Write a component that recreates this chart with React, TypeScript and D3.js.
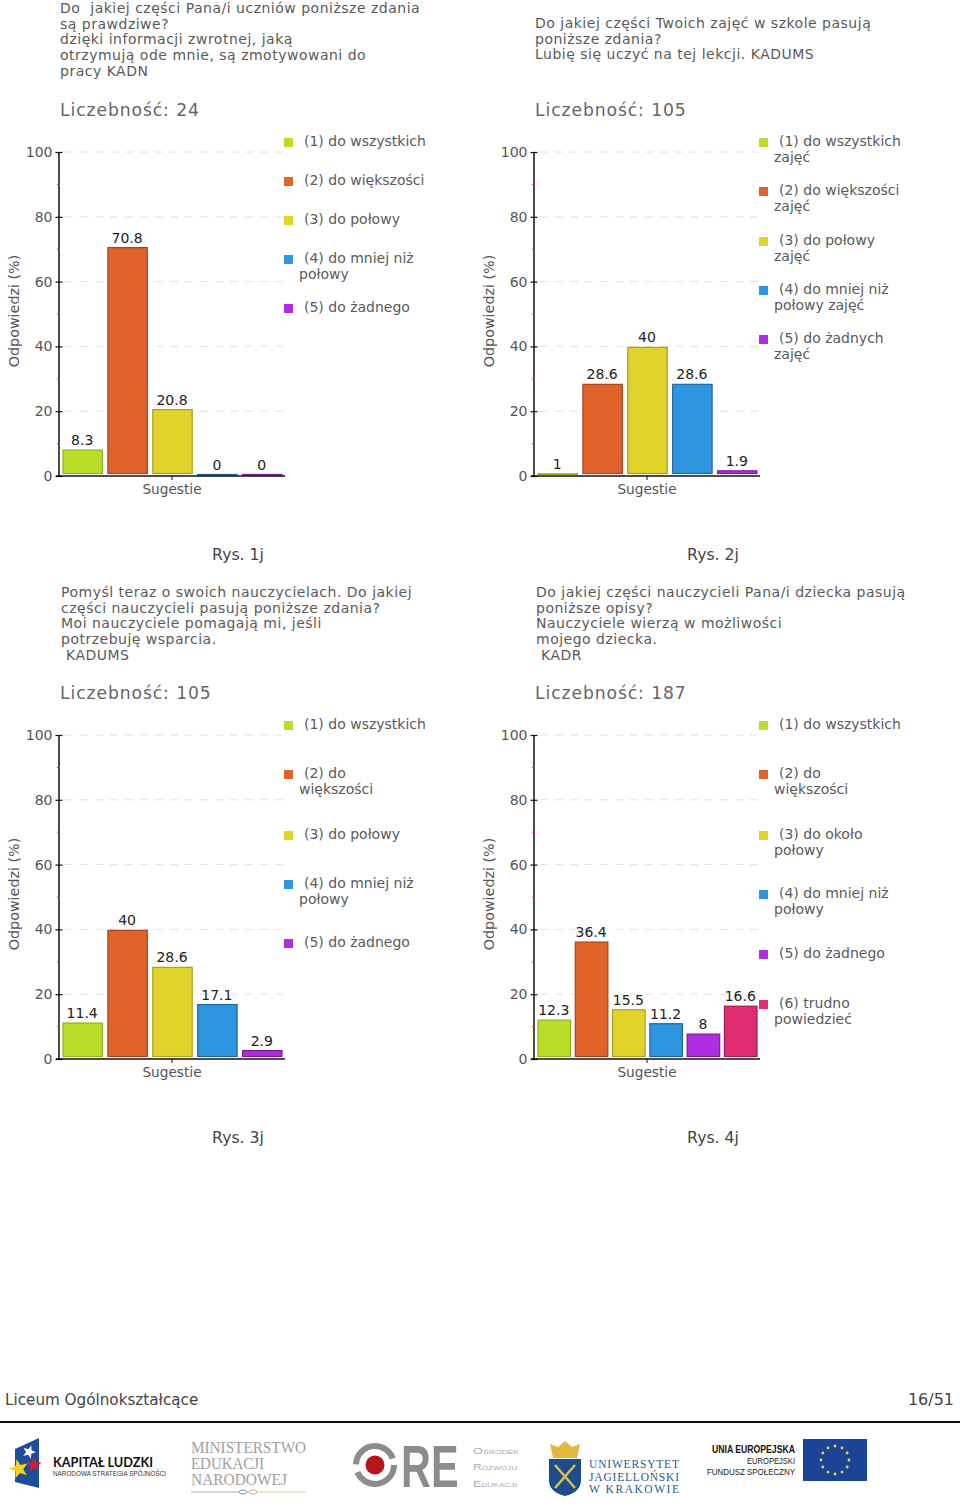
import React, { useEffect, useRef } from "react";
import * as d3 from "d3";

const FONT = "DejaVu Sans";

// values
const values1 = [8.3, 70.8, 20.8, 0, 0];
const values2 = [1, 28.6, 40, 28.6, 1.9];
const values3 = [11.4, 40, 28.6, 17.1, 2.9];
const values4 = [12.3, 36.4, 15.5, 11.2, 8, 16.6];

const counts = [24, 105, 105, 187];
const captions = ["Rys. 1j", "Rys. 2j", "Rys. 3j", "Rys. 4j"];

const titles1 = [
  "Do  jakiej części Pana/i uczniów poniższe zdania",
  "są prawdziwe?",
  "dzięki informacji zwrotnej, jaką",
  "otrzymują ode mnie, są zmotywowani do",
  "pracy KADN",
];
const titles2 = [
  "Do jakiej części Twoich zajęć w szkole pasują",
  "poniższe zdania?",
  "Lubię się uczyć na tej lekcji. KADUMS",
];
const titles3 = [
  "Pomyśl teraz o swoich nauczycielach. Do jakiej",
  "części nauczycieli pasują poniższe zdania?",
  "Moi nauczyciele pomagają mi, jeśli",
  "potrzebuję wsparcia.",
  " KADUMS",
];
const titles4 = [
  "Do jakiej części nauczycieli Pana/i dziecka pasują",
  "poniższe opisy?",
  "Nauczyciele wierzą w możliwości",
  "mojego dziecka.",
  " KADR",
];

const legend1 = [
  ["(1) do wszystkich"],
  ["(2) do większości"],
  ["(3) do połowy"],
  ["(4) do mniej niż", "połowy"],
  ["(5) do żadnego"],
];
const legend2 = [
  ["(1) do wszystkich", "zajęć"],
  ["(2) do większości", "zajęć"],
  ["(3) do połowy", "zajęć"],
  ["(4) do mniej niż", "połowy zajęć"],
  ["(5) do żadnych", "zajęć"],
];
const legend3 = [
  ["(1) do wszystkich"],
  ["(2) do", "większości"],
  ["(3) do połowy"],
  ["(4) do mniej niż", "połowy"],
  ["(5) do żadnego"],
];
const legend4 = [
  ["(1) do wszystkich"],
  ["(2) do", "większości"],
  ["(3) do około", "połowy"],
  ["(4) do mniej niż", "połowy"],
  ["(5) do żadnego"],
  ["(6) trudno", "powiedzieć"],
];

const fills = ["#bade27", "#e0632c", "#e0d42b", "#2e96e0", "#b02ce0", "#e02c70"];
const strokes = ["#8fb020", "#a8431a", "#a8a01c", "#1b66a0", "#7c1aa0", "#a01a50"];

const yTicks = d3.range(0, 101, 10);

// layout of the four panels
const panels = [
  { x: 0, y: 0, titleX: 60, values: values1, titles: titles1, titleY: 13, legend: legend1, legendGaps: [39, 39, 39, 49] },
  { x: 475, y: 0, titleX: 60, values: values2, titles: titles2, titleY: 28, legend: legend2, legendGaps: [49, 50, 49, 49] },
  { x: 0, y: 583, titleX: 61, values: values3, titles: titles3, titleY: 14, legend: legend3, legendGaps: [49, 61, 49, 59] },
  { x: 475, y: 583, titleX: 61, values: values4, titles: titles4, titleY: 14, legend: legend4, legendGaps: [49, 61, 59, 60, 50] },
];

type Sel = d3.Selection<SVGGElement, unknown, null, undefined>;

function drawPanel(root: Sel, p: (typeof panels)[number], i: number) {
  const g = root.append("g").attr("transform", `translate(${p.x},${p.y})`);
  const y = d3.scaleLinear().domain([0, 100]).range([476, 152]);
  const x = d3
    .scaleBand<number>()
    .domain(d3.range(p.values.length))
    .range([62.5, 282.5])
    .paddingInner(0.1);

  // title
  p.titles.forEach((t, k) => {
    g.append("text")
      .attr("x", p.titleX)
      .attr("y", p.titleY + k * 15.7)
      .style("white-space", "pre")
      .attr("font-size", 14)
      .attr("letter-spacing", 0.5)
      .attr("fill", "#5a5a5a")
      .text(t);
  });
  g.append("text")
    .attr("x", 60)
    .attr("y", 116)
    .attr("font-size", 17.2)
    .attr("letter-spacing", 0.9)
    .attr("fill", "#666")
    .text(`Liczebność: ${counts[i]}`);

  // grid
  g.append("g")
    .selectAll("line")
    .data(d3.range(20, 101, 20))
    .join("line")
    .attr("x1", 65)
    .attr("x2", 285)
    .attr("y1", (d) => y(d))
    .attr("y2", (d) => y(d))
    .attr("stroke", "#e2e2e2")
    .attr("stroke-dasharray", "8 7");

  // y axis
  const yAxis = g
    .append("g")
    .attr("transform", "translate(58.5,0)")
    .call(
      d3
        .axisLeft(y)
        .tickValues(yTicks.filter((d) => d % 20 === 0))
        .tickSize(0)
        .tickPadding(6)
    );
  yAxis.select(".domain").attr("stroke", "#111").attr("stroke-width", 1.5);
  yAxis.selectAll("text").attr("font-family", FONT).attr("font-size", 14).attr("fill", "#555");
  yAxis
    .selectAll(".tick line")
    .attr("x1", -3)
    .attr("x2", 4)
    .attr("stroke", "#111")
    .attr("stroke-width", 1.2);
  g.append("g")
    .selectAll("line")
    .data(yTicks.filter((d) => d % 20 !== 0))
    .join("line")
    .attr("x1", 57)
    .attr("x2", 60)
    .attr("y1", (d) => y(d))
    .attr("y2", (d) => y(d))
    .attr("stroke", "#c8324a");

  // bars
  g.append("g")
    .selectAll("rect")
    .data(p.values)
    .join("rect")
    .attr("x", (_, k) => x(k)! + 0.5)
    .attr("y", (d) => Math.min(y(d) + 1, 474.5))
    .attr("width", x.bandwidth() - 1)
    .attr("height", (d) => Math.max(472.5 - y(d), 0.6))
    .attr("fill", (_, k) => fills[k])
    .attr("stroke", (_, k) => strokes[k])
    .attr("stroke-width", 1.2);

  g.append("g")
    .selectAll("text")
    .data(p.values)
    .join("text")
    .attr("x", (_, k) => x(k)! + x.bandwidth() / 2 - 0.5)
    .attr("y", (d) => Math.min(y(d), 474) - 4)
    .attr("text-anchor", "middle")
    .attr("font-size", 14)
    .attr("fill", "#222")
    .text((d) => d);

  // x axis
  g.append("line")
    .attr("x1", 56)
    .attr("x2", 285)
    .attr("y1", 476)
    .attr("y2", 476)
    .attr("stroke", "#111")
    .attr("stroke-width", 1.5);
  g.append("line")
    .attr("x1", 172)
    .attr("x2", 172)
    .attr("y1", 476)
    .attr("y2", 480)
    .attr("stroke", "#111");
  g.append("text")
    .attr("x", 172)
    .attr("y", 494)
    .attr("text-anchor", "middle")
    .attr("font-size", 13.7)
    .attr("fill", "#555")
    .text("Sugestie");
  g.append("text")
    .attr("transform", "translate(19,311) rotate(-90)")
    .attr("text-anchor", "middle")
    .attr("font-size", 14.3)
    .attr("fill", "#555")
    .text("Odpowiedzi (%)");

  // legend
  let ly = 141;
  p.legend.forEach((lines, k) => {
    g.append("rect")
      .attr("x", 284)
      .attr("y", ly - 3)
      .attr("width", 9)
      .attr("height", 9)
      .attr("fill", fills[k]);
    lines.forEach((t, n) => {
      g.append("text")
        .attr("x", n === 0 ? 304 : 299)
        .attr("y", ly + 5 + n * 15.5)
        .attr("font-size", 14)
        .attr("fill", "#5a5a5a")
        .text(t);
    });
    ly += p.legendGaps[k] ?? 0;
  });

  // caption
  g.append("text")
    .attr("x", 238)
    .attr("y", 560)
    .attr("text-anchor", "middle")
    .attr("font-size", 15.7)
    .attr("fill", "#444")
    .text(captions[i]);
}

function drawLogos(g: Sel) {
  const label = (
    x: number,
    y: number,
    t: string,
    size: number,
    fill: string,
    opts: { bold?: boolean; family?: string; anchor?: string; length?: number; spacing?: boolean } = {}
  ) => {
    const el = g
      .append("text")
      .attr("x", x)
      .attr("y", y)
      .attr("font-size", size)
      .attr("fill", fill)
      .attr("font-family", opts.family ?? "Liberation Sans")
      .attr("font-weight", opts.bold ? 700 : 400)
      .attr("text-anchor", opts.anchor ?? "start")
      .text(t);
    if (opts.length)
      el.attr("textLength", opts.length).attr("lengthAdjust", opts.spacing ? "spacing" : "spacingAndGlyphs");
    return el;
  };
  const star = (cx: number, cy: number, r: number, fill: string, rot: number) => {
    const pts = d3.range(10).map((k) => d3.pointRadial((k * Math.PI) / 5, k % 2 ? r * 0.42 : r));
    g.append("polygon")
      .attr("transform", `translate(${cx},${cy}) rotate(${rot})`)
      .attr("points", pts.map((q) => q.join(",")).join(" "))
      .attr("fill", fill);
  };

  // Kapitał Ludzki
  g.append("polygon").attr("points", "15,1449 39,1438 39,1488 15,1482").attr("fill", "#1c4c9c");
  star(29, 1452, 7, "#fff", 20);
  star(34, 1465, 8, "#c8222f", 0);
  star(19, 1469, 10, "#f5d21e", -15);
  label(53, 1467, "KAPITAŁ LUDZKI", 14, "#111", { bold: true, family: "Lato", length: 100 });
  label(53, 1476, "NARODOWA STRATEGIA SPÓJNOŚCI", 7, "#333", { length: 113 });

  // MEN
  label(191, 1453, "MINISTERSTWO", 17, "#a0a0a0", { family: "Liberation Serif", length: 115 });
  label(191, 1469, "EDUKACJI", 17, "#a0a0a0", { family: "Liberation Serif", length: 73 });
  label(191, 1485, "NARODOWEJ", 17, "#a0a0a0", { family: "Liberation Serif", length: 96 });
  g.append("line").attr("x1", 191).attr("x2", 247).attr("y1", 1492).attr("y2", 1492).attr("stroke", "#a8b4c4");
  g.append("line").attr("x1", 247).attr("x2", 306).attr("y1", 1492).attr("y2", 1492).attr("stroke", "#ecc8a4");
  g.append("ellipse").attr("cx", 243).attr("cy", 1492).attr("rx", 4).attr("ry", 2).attr("fill", "#fff").attr("stroke", "#8898ac");
  g.append("ellipse").attr("cx", 253).attr("cy", 1492).attr("rx", 4).attr("ry", 2).attr("fill", "#fff").attr("stroke", "#e0b080");

  // ORE
  g.append("circle")
    .attr("cx", 375)
    .attr("cy", 1465)
    .attr("r", 19)
    .attr("fill", "none")
    .attr("stroke", "#8c8c8c")
    .attr("stroke-width", 6)
    .attr("stroke-dasharray", "52 8");
  g.append("circle").attr("cx", 375).attr("cy", 1465).attr("r", 9.5).attr("fill", "#b8141e");
  label(0, 0, "RE", 60, "#8c8c8c", { bold: true }).attr("transform", "translate(401,1487) scale(0.69,1)");
  label(473, 1454, "Ośrodek", 9, "#aaa", { length: 46 }).style("font-variant", "small-caps");
  label(473, 1470, "Rozwoju", 9, "#aaa", { length: 44 }).style("font-variant", "small-caps");
  label(473, 1487, "Edukacji", 9, "#aaa", { length: 44 }).style("font-variant", "small-caps");

  // UJ
  g.append("polygon")
    .attr("points", "550,1444 558,1447 565,1441 572,1447 580,1444 577,1458 553,1458")
    .attr("fill", "#e0b83c");
  g.append("path").attr("d", "M549,1459H581V1480Q581,1492 565,1496Q549,1492 549,1480Z").attr("fill", "#1c4c8c");
  g.append("line").attr("x1", 555).attr("y1", 1465).attr("x2", 575).attr("y2", 1488).attr("stroke", "#d8c050").attr("stroke-width", 2.5);
  g.append("line").attr("x1", 575).attr("y1", 1465).attr("x2", 555).attr("y2", 1488).attr("stroke", "#d8c050").attr("stroke-width", 2.5);
  label(589, 1468, "UNIWERSYTET", 11.5, "#2a5a8c", { family: "Liberation Serif", length: 90, spacing: true });
  label(589, 1481, "JAGIELLOŃSKI", 11.5, "#2a5a8c", { family: "Liberation Serif", length: 90, spacing: true });
  label(589, 1493, "W KRAKOWIE", 11.5, "#2a5a8c", { family: "Liberation Serif", length: 90, spacing: true });

  // EU
  label(795, 1453, "UNIA EUROPEJSKA", 10, "#111", { bold: true, anchor: "end", length: 83 });
  label(795, 1464, "EUROPEJSKI", 9, "#222", { anchor: "end", length: 48 });
  label(795, 1475, "FUNDUSZ SPOŁECZNY", 9, "#222", { anchor: "end", length: 88 });
  g.append("rect").attr("x", 803).attr("y", 1439).attr("width", 64).attr("height", 42).attr("fill", "#1c4496");
  d3.range(12).forEach((k) => {
    const [dx, dy] = d3.pointRadial((k * Math.PI) / 6, 14);
    g.append("circle")
      .attr("cx", 835 + dx)
      .attr("cy", 1460 + dy)
      .attr("r", 1.4)
      .attr("fill", "#e8dc3c");
  });
}

const App: React.FC = () => {
  const ref = useRef<SVGSVGElement | null>(null);

  useEffect(() => {
    const svg = d3.select(ref.current);
    svg.selectAll("*").remove();
    const root = svg.append("g").attr("font-family", FONT) as unknown as Sel;

    panels.forEach((p, i) => drawPanel(root, p, i));

    // footer
    root.append("text").attr("x", 5).attr("y", 1405).attr("font-size", 15.2).attr("fill", "#444").text("Liceum Ogólnokształcące");
    root.append("text").attr("x", 954).attr("y", 1405).attr("text-anchor", "end").attr("font-size", 16).attr("fill", "#444").text("16/51");
    root.append("line").attr("x1", 0).attr("x2", 960).attr("y1", 1422).attr("y2", 1422).attr("stroke", "#111").attr("stroke-width", 2);

    drawLogos(root);
  }, []);

  return <svg ref={ref} width={960} height={1510} style={{ position: "absolute", left: 0, top: 0 }}></svg>;
};

export default App;
